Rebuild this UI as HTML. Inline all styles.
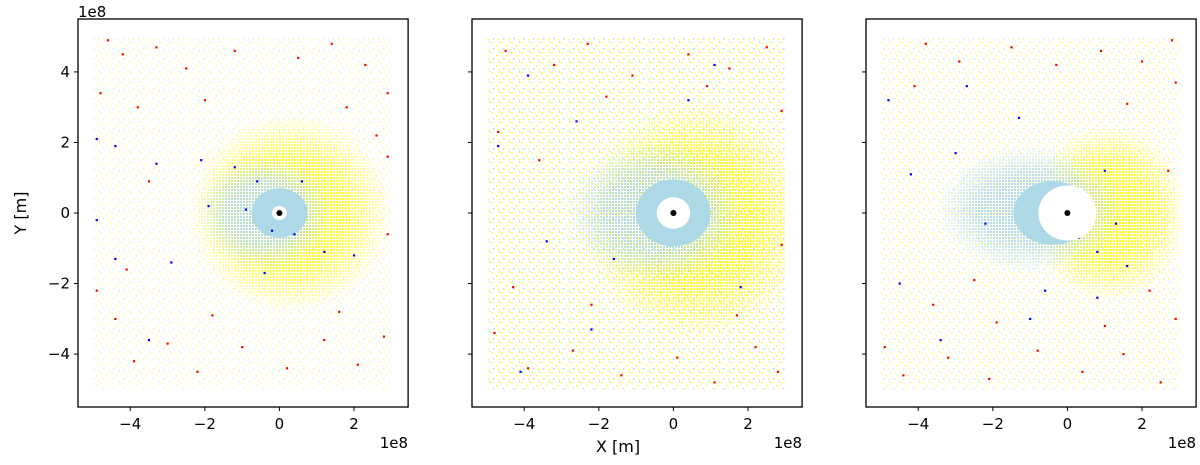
<!DOCTYPE html>
<html><head><meta charset="utf-8"><style>
body{margin:0;background:#fff;}
svg text{font-family:"DejaVu Sans","Liberation Sans",sans-serif;font-size:15px;fill:#000;}
</style></head><body>
<svg id="chart" width="1200" height="460" viewBox="0 0 1200 460">
<defs>
  <pattern id="spk" width="10" height="10" patternUnits="userSpaceOnUse">
    <rect x="1" y="2" width="1.5" height="1.5" fill="#ffff00"/>
    <rect x="6" y="5" width="1.5" height="1.5" fill="#ffff00"/>
    <rect x="3" y="8" width="1.5" height="1.5" fill="#add8e6"/>
    <rect x="8" y="9" width="1.5" height="1.5" fill="#ffff00"/>
    <rect x="9" y="1" width="1.5" height="1.5" fill="#add8e6"/>
  </pattern>
  <pattern id="dy" width="3" height="3" patternUnits="userSpaceOnUse">
    <rect x="0" y="0" width="2" height="2" fill="#ffff00"/>
  </pattern>
  <pattern id="db" width="3" height="3" patternUnits="userSpaceOnUse">
    <rect x="0" y="0" width="2" height="2" fill="#add8e6"/>
  </pattern>
  <radialGradient id="gw"><stop offset="0" stop-color="#fff" stop-opacity="1"/><stop offset="0.55" stop-color="#fff" stop-opacity="0.85"/><stop offset="1" stop-color="#fff" stop-opacity="0"/></radialGradient>
</defs>
<g id="panels"></g>
<text x="78" y="17">1e8</text>
<text x="26" y="213" text-anchor="middle" transform="rotate(-90 26 213)" style="font-size:16px">Y [m]</text>
<text x="618" y="452" text-anchor="middle" style="font-size:16px">X [m]</text>
</svg>
<script>
const xTicks=[-4,-2,0,2];
const yTicks=[-4,-2,0,2,4];
const holeR=[0.2,0.45,0.78];
const yellowCloud=[[0.3,0,2.7,2.8],[0.6,-0.2,3.0,3.4],[1.1,0,2.1,2.5]];
const blueCloud=[[-0.4,0,1.8,1.6],[-0.5,0,2.4,2.0],[-1.0,0.1,2.5,1.8]];
const blueCore=[[0,0,0.75,0.7],[0,0,1.0,0.95],[-0.4,0,1.05,0.9]];
const speckleOpacity=[0.45,0.95,0.6];
const redPts=[
 [[-4.6,4.9],[-4.2,4.5],[-3.3,4.7],[-2.5,4.1],[-1.2,4.6],[0.5,4.4],[1.4,4.8],[2.3,4.2],[2.9,3.4],[-4.8,3.4],[-3.8,3.0],[-2.0,3.2],[1.8,3.0],[2.6,2.2],[2.9,1.6],[-4.9,-2.2],[-4.4,-3.0],[-3.9,-4.2],[-3.0,-3.7],[-2.2,-4.5],[-1.0,-3.8],[0.2,-4.4],[1.2,-3.6],[2.1,-4.3],[2.8,-3.5],[-4.1,-1.6],[-3.5,0.9],[2.9,-0.6],[1.6,-2.8],[-1.8,-2.9]],
 [[-4.5,4.6],[-3.2,4.2],[-2.3,4.8],[-1.1,3.9],[0.4,4.5],[1.5,4.1],[2.5,4.7],[2.9,2.9],[-4.7,2.3],[-3.6,1.5],[2.9,-0.9],[-4.8,-3.4],[-3.9,-4.4],[-2.7,-3.9],[-1.4,-4.6],[0.1,-4.1],[1.1,-4.8],[2.2,-3.8],[2.8,-4.5],[-4.3,-2.1],[-2.2,-2.6],[1.7,-2.9],[-1.8,3.3],[0.9,3.6]],
 [[-3.8,4.8],[-2.9,4.3],[-1.5,4.7],[-0.3,4.2],[0.9,4.6],[2.0,4.3],[2.8,4.9],[2.9,3.7],[2.7,1.2],[-4.1,3.6],[1.6,3.1],[-4.9,-3.8],[-4.4,-4.6],[-3.2,-4.1],[-2.1,-4.7],[-0.8,-3.9],[0.4,-4.5],[1.5,-4.0],[2.5,-4.8],[2.9,-3.0],[-3.6,-2.6],[-1.9,-3.1],[1.0,-3.2],[2.2,-2.2],[-2.5,-1.9]]
];
const bluePts=[
 [[-4.9,2.1],[-4.4,1.9],[-3.3,1.4],[-2.1,1.5],[-1.2,1.3],[-0.6,0.9],[0.6,0.9],[-4.9,-0.2],[-4.4,-1.3],[-2.9,-1.4],[-0.4,-1.7],[0.4,-0.6],[1.2,-1.1],[-3.5,-3.6],[-1.9,0.2],[2.0,-1.2],[-0.2,-0.5],[-0.9,0.1]],
 [[-4.7,1.9],[-3.4,-0.8],[-2.6,2.6],[-1.6,-1.3],[0.4,3.2],[1.1,4.2],[-4.1,-4.5],[-2.2,-3.3],[1.8,-2.1],[-3.9,3.9]],
 [[-4.8,3.2],[-4.2,1.1],[-3.0,1.7],[-2.2,-0.3],[-1.3,2.7],[1.0,1.2],[1.3,-0.3],[0.8,-1.1],[1.6,-1.5],[0.3,-0.7],[-0.6,-2.2],[-4.5,-2.0],[-3.4,-3.6],[-1.0,-3.0],[0.8,-2.4],[-2.7,3.6]]
];
const ns="http://www.w3.org/2000/svg";
const root=document.getElementById('panels');
const defs=document.querySelector('defs');
const K=37.3,KY=35.27,Y0=213;
function mk(t,a,p){const e=document.createElementNS(ns,t);for(const k in a)e.setAttribute(k,a[k]);(p||root).appendChild(e);return e;}
for(let i=0;i<3;i++){
  const x0=78+i*394+5.4*K;
  const sx=v=>x0+v*K, sy=v=>Y0-v*KY;
  const g=mk('g',{});
  
  
  const cp=mk('clipPath',{id:'cp'+i},defs);
  mk('rect',{x:sx(-5),y:sy(5),width:sx(3)-sx(-5),height:sy(-5)-sy(5)},cp);
  const yc=yellowCloud[i],bc=blueCloud[i],cc=blueCore[i];
  const my=mk('mask',{id:'my'+i,maskUnits:'userSpaceOnUse',x:0,y:0,width:1200,height:460},defs);
  mk('ellipse',{cx:sx(yc[0]),cy:sy(yc[1]),rx:yc[2]*K,ry:yc[3]*KY,fill:'url(#gw)'},my);
  const mb=mk('mask',{id:'mb'+i,maskUnits:'userSpaceOnUse',x:0,y:0,width:1200,height:460},defs);
  mk('ellipse',{cx:sx(bc[0]),cy:sy(bc[1]),rx:bc[2]*K,ry:bc[3]*KY,fill:'url(#gw)'},mb);
  const pts=mk('g',{'clip-path':'url(#cp'+i+')'},g);
  
  
  const W=sx(3)-sx(-5),H=sy(-5)-sy(5);
  mk('rect',{x:sx(-5),y:sy(5),width:W,height:H,fill:'url(#spk)',opacity:speckleOpacity[i]},pts);
  mk('rect',{x:sx(-5),y:sy(5),width:W,height:H,fill:'url(#dy)',mask:'url(#my'+i+')'},pts);
  mk('rect',{x:sx(-5),y:sy(5),width:W,height:H,fill:'url(#db)',mask:'url(#mb'+i+')'},pts);
  mk('ellipse',{cx:sx(cc[0]),cy:sy(cc[1]),rx:cc[2]*K,ry:cc[3]*KY,fill:'#add8e6'},pts);
  redPts[i].forEach(p=>{const r=mk('rect',{x:sx(p[0])-1,y:sy(p[1])-1,width:2.2,height:2.2,fill:'#ff0000'},pts);
    
    });
  bluePts[i].forEach(p=>{const r=mk('rect',{x:sx(p[0])-1,y:sy(p[1])-1,width:2.2,height:2.2,fill:'#0000ff'},pts);
    
    });
  const h=mk('ellipse',{cx:sx(0),cy:sy(0),rx:holeR[i]*K,ry:holeR[i]*KY,fill:'#fff'},g);
  
  
  const c=mk('circle',{cx:sx(0),cy:sy(0),r:3,fill:'#000'},g);
  
  
  const L=78+i*394,R=sx(3.45);
  const fr=mk('rect',{x:L,y:19,width:R-L,height:388,fill:'none',stroke:'#000','stroke-width':1.3},g);
  
  
  xTicks.forEach(v=>{mk('line',{x1:sx(v),x2:sx(v),y1:407,y2:411,stroke:'#000'},g);
    const t=mk('text',{x:sx(v),y:429,'text-anchor':'middle'},g);t.textContent=v<0?'\u2212'+(-v):String(v);
    
    });
  yTicks.forEach(v=>{mk('line',{x1:L-4,x2:L,y1:sy(v),y2:sy(v),stroke:'#000'},g);
    if(i===0){const t=mk('text',{x:L-8,y:sy(v)+5,'text-anchor':'end'},g);t.textContent=v<0?'\u2212'+(-v):String(v);
    
    }});
  const o=mk('text',{x:R,y:448,'text-anchor':'end'},g);o.textContent='1e8';
  
  
}
</script>
</body></html>
